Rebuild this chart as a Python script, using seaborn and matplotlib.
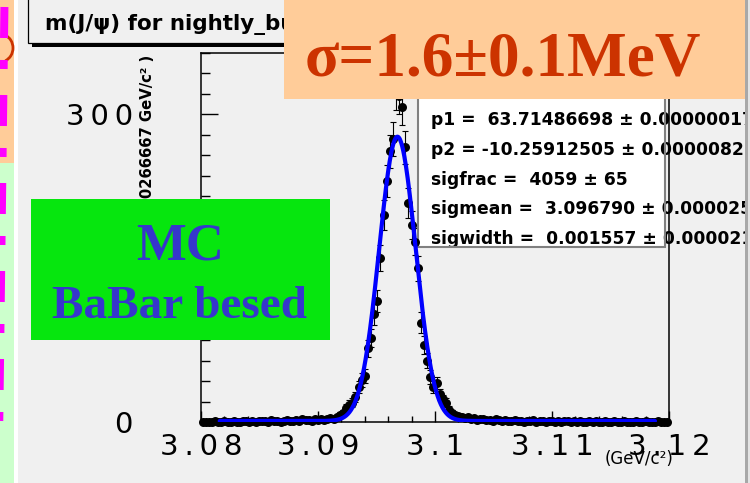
import numpy as np
import pandas as pd
import matplotlib
matplotlib.use("Agg")
import matplotlib.pyplot as plt
import seaborn as sns
from matplotlib.patches import Rectangle, Arc
from matplotlib.lines import Line2D
from matplotlib.ticker import FixedLocator, AutoMinorLocator, FuncFormatter

# ---------------- data ----------------
x_lo, x_hi = 3.08, 3.12
n_bins = 150
counts = [
    0, 0, 0, 0, 1, 0, 0, 1, 0, 0, 1, 0, 0, 1, 1, 0, 1, 0, 1, 1,
    1, 0, 2, 1, 1, 0, 1, 2, 1, 1, 2, 1, 3, 2, 2, 1, 3, 2, 3, 2,
    3, 4, 3, 5, 7, 9, 14, 17, 19, 24,
    34, 41, 45, 72, 82, 105, 118, 160, 202, 235,
    264, 276, 322, 318, 307, 268, 214, 192, 176, 150,
    97, 75, 60, 44, 34, 38, 27, 22, 19, 12,
    9, 7, 6, 5, 4, 5, 3, 4, 2, 3,
    3, 2, 2, 1, 3, 2, 1, 2, 1, 1,
    2, 1, 1, 0, 1, 1, 2, 0, 1, 1,
    0, 1, 1, 0, 1, 0, 1, 1, 0, 1,
    0, 1, 0, 0, 1, 0, 1, 0, 0, 1,
    0, 0, 1, 0, 0, 1, 0, 0, 0, 1,
    0, 0, 1, 0, 0, 0, 1, 0, 0, 0,
]

# fit result
sig_mean = 3.096790
sig_width = 0.001557
sig_yield = 4059
bkg_level = 1.0
fit_lo, fit_hi = 3.0816, 3.1188

x_ticks = [3.08, 3.09, 3.10, 3.11, 3.12]
y_ticks = [0, 100, 200, 300]
y_max = 360

title = "m(J/\u03c8) for nightly_build"
y_title = "Events / ( 0.000266667 GeV/c\u00b2 )"
x_unit = "(GeV/c\u00b2)"
stat_lines = [
    "p1 =  63.71486698 \u00b1 0.00000017",
    "p2 = -10.25912505 \u00b1 0.0000082",
    "sigfrac =  4059 \u00b1 65",
    "sigmean =  3.096790 \u00b1 0.000025",
    "sigwidth =  0.001557 \u00b1 0.000021",
]
banner = "\u03c3=1.6\u00b10.1MeV"
note_lines = ["MC", "BaBar besed"]

# ---------------- derived ----------------
bin_width = (x_hi - x_lo) / n_bins
centers = x_lo + (np.arange(n_bins) + 0.5) * bin_width
counts_arr = np.array(counts, dtype=float)
df = pd.DataFrame({"mass": centers, "events": counts_arr})

amp = sig_yield * bin_width / (np.sqrt(2 * np.pi) * sig_width)
fit_x = np.linspace(fit_lo, fit_hi, 800)
fit_y = amp * np.exp(-0.5 * ((fit_x - sig_mean) / sig_width) ** 2) + bkg_level
fit_df = pd.DataFrame({"mass": fit_x, "events": fit_y})

# ---------------- style ----------------
W, H = 750, 483
sns.set_style("ticks")
plt.rcParams["font.family"] = ["DejaVu Sans"]
plt.rcParams["lines.scale_dashes"] = False
BG = "#f0f0f0"


def fx(x):
    return x / W


def fy(y):
    return 1 - y / H


def rect(x0, y0, x1, y1, **kw):
    return Rectangle((fx(x0), fy(y1)), (x1 - x0) / W, (y1 - y0) / H,
                     transform=fig.transFigure, **kw)


fig = plt.figure(figsize=(W / 100, H / 100), dpi=100, facecolor=BG)

# histogram frame
ax = fig.add_axes([fx(201), fy(422), 468 / W, 369 / H])
ax.set_facecolor(BG)

ax.errorbar(df["mass"], df["events"], yerr=np.sqrt(df["events"]), fmt="none",
            ecolor="black", elinewidth=0.8, capsize=2.2, capthick=0.8, zorder=2)
sns.scatterplot(data=df, x="mass", y="events", color="black", s=42,
                linewidth=0, ax=ax, zorder=3, clip_on=False, legend=False)
sns.lineplot(data=fit_df, x="mass", y="events", color="#0000ff", lw=3.0,
             ax=ax, zorder=4, errorbar=None, legend=False)

ax.set_xlim(x_lo, x_hi)
ax.set_ylim(0, y_max)
ax.set_xlabel("")
ax.set_ylabel("")

spaced = FuncFormatter(lambda v, p: "\u2009".join("%g" % round(v, 4)))
ax.xaxis.set_major_locator(FixedLocator(x_ticks))
ax.xaxis.set_minor_locator(AutoMinorLocator(5))
ax.yaxis.set_major_locator(FixedLocator(y_ticks))
ax.yaxis.set_minor_locator(AutoMinorLocator(5))
ax.xaxis.set_major_formatter(spaced)
ax.yaxis.set_major_formatter(spaced)
ax.tick_params(which="both", direction="in", color="black", width=1.0,
               top=False, right=False, labelsize=21, labelcolor="black")
ax.tick_params(axis="y", which="major", length=12, pad=49)
ax.tick_params(axis="y", which="minor", length=6.5)
ax.tick_params(axis="x", which="major", length=8, pad=8)
ax.tick_params(axis="x", which="minor", length=4)
for s in ax.spines.values():
    s.set_visible(True)
    s.set_color("black")
    s.set_linewidth(1.1)

# axis titles
fig.text(fx(148), fy(55), y_title, rotation=90, ha="center", va="top",
         fontsize=10.7, fontweight="bold", color="black")
fig.text(fx(673), fy(459), x_unit, ha="right", va="center", fontsize=12,
         color="black")

# fit-parameter box
ax.add_patch(rect(418, 60, 665, 247, facecolor="white", edgecolor="none",
                  zorder=2.1, clip_on=False))
for i, line in enumerate(stat_lines):
    ax.text(fx(431), fy(120 + 29.8 * i), line, transform=fig.transFigure,
            ha="left", va="center", fontsize=12.3, fontweight="bold",
            color="black", zorder=2.2)
ax.add_patch(rect(418, 60, 665, 247, facecolor="none", edgecolor="#808080",
                  lw=1.5, zorder=2.3, clip_on=False))

# title pave with shadow
fig.patches.append(rect(32, 0, 300, 47, facecolor="black", edgecolor="none"))
fig.patches.append(rect(28, -5, 296, 43, facecolor=BG, edgecolor="black", lw=0.9))
fig.text(fx(45), fy(30), title, ha="left", va="baseline", fontsize=15.5,
         fontweight="bold", color="black")

# banner with the resolution
fig.patches.append(rect(284, 0, 752, 99, facecolor="#ffcc99", edgecolor="none", zorder=5))
fig.text(fx(305), fy(75), banner, ha="left", va="baseline", fontsize=45.5,
         fontweight="bold", family="Liberation Serif", color="#cc3300", zorder=6)

# green label
fig.patches.append(rect(31, 199, 330, 340, facecolor="#06e60e", edgecolor="none", zorder=5))
fig.text(fx(180), fy(260), note_lines[0], ha="center", va="baseline", fontsize=38,
         fontweight="bold", family="Liberation Serif", color="#3636cc", zorder=6)
fig.text(fx(180), fy(318), note_lines[1], ha="center", va="baseline", fontsize=34,
         fontweight="bold", family="Liberation Serif", color="#3636cc", zorder=6)

# left slide strip
fig.patches.append(rect(0, 0, 14, 163, facecolor="#ffcc99", edgecolor="none", zorder=5))
fig.patches.append(rect(0, 163, 14, 483, facecolor="#ccffcc", edgecolor="none", zorder=5))
fig.patches.append(rect(14, 0, 18, 483, facecolor="white", edgecolor="none", zorder=5))
fig.patches.append(Arc((fx(0), fy(48)), 26 / W, 28 / H, theta1=-75, theta2=75,
                       transform=fig.transFigure, color="#cc3300", lw=2.0, zorder=6))
px2pt = 72 / 100
dash = Line2D([fx(4.5), fx(-1.5)], [fy(0), fy(483)], transform=fig.transFigure,
              color="#ff00ff", lw=8 * px2pt, zorder=7)
dash.set_linestyle((81 * px2pt, (31 * px2pt, 22 * px2pt, 9 * px2pt, 26 * px2pt)))
dash.set_dash_capstyle("butt")
fig.lines.append(dash)

# right edge
fig.patches.append(rect(745, 0, 748, 483, facecolor="#a8a8a8", edgecolor="none", zorder=7))
fig.patches.append(rect(748, 0, 751, 483, facecolor="#e4e4e4", edgecolor="none", zorder=7))

fig.savefig("out.png", dpi=100, facecolor=BG)
